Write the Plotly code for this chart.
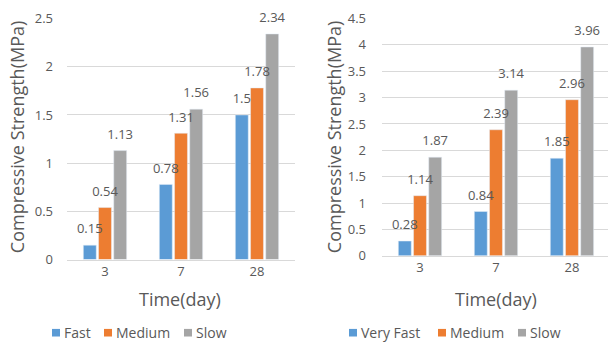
import plotly.graph_objects as go

# Curing ages (days) shared by both panels
ages = ["3", "7", "28"]

# Left panel: compressive strength (MPa) by setting rate
left_names = ["Fast", "Medium", "Slow"]
left_fast = [0.15, 0.78, 1.5]
left_medium = [0.54, 1.31, 1.78]
left_slow = [1.13, 1.56, 2.34]

# Right panel: compressive strength (MPa) by setting rate
right_names = ["Very Fast", "Medium", "Slow"]
right_vfast = [0.28, 0.84, 1.85]
right_medium = [1.14, 2.39, 2.96]
right_slow = [1.87, 3.14, 3.96]

colors = ["#5B9BD5", "#ED7D31", "#A5A5A5"]
TXT = "#595959"
GRID = "#D9D9D9"
FONT = "Open Sans"

W, H = 608, 355


def px_x(v):
    return v / W


def px_y(v):
    return 1 - v / H


fig = go.Figure()

panels = [
    ("x", "y", left_names, [left_fast, left_medium, left_slow]),
    ("x2", "y2", right_names, [right_vfast, right_medium, right_slow]),
]

# Bars first, value labels afterwards so labels sit on top of neighbouring bars
for xa, ya, names, series in panels:
    for i, (name, vals, c) in enumerate(zip(names, series, colors)):
        fig.add_trace(go.Bar(
            x=ages, y=vals, name=name, marker_color=c,
            offsetgroup=str(i), alignmentgroup=xa,
            xaxis=xa, yaxis=ya, showlegend=False,
        ))
for xa, ya, names, series in panels:
    for i, (name, vals) in enumerate(zip(names, series)):
        fig.add_trace(go.Scatter(
            x=ages, y=vals, mode="markers+text", name=name,
            marker=dict(size=12, color="rgba(0,0,0,0)"),
            text=[f"{v:g}" for v in vals], textposition="top center",
            textfont=dict(family=FONT, size=13, color=TXT),
            offsetgroup=str(i), alignmentgroup=xa,
            cliponaxis=False, xaxis=xa, yaxis=ya, showlegend=False,
            hoverinfo="skip",
        ))

tick_font = dict(family=FONT, size=13, color=TXT)

fig.update_layout(
    width=W, height=H,
    margin=dict(l=0, r=0, t=0, b=0),
    paper_bgcolor="white", plot_bgcolor="white",
    barmode="group", bargap=0.4, bargroupgap=0.15,
    scattermode="group", scattergap=0.4,
    font=dict(family=FONT, color=TXT),
    xaxis=dict(domain=[px_x(67), px_x(295)], anchor="y", type="category",
               range=[-0.5, 2.5], showline=True, linecolor=GRID, linewidth=1,
               showgrid=False, zeroline=False, ticks="", tickfont=tick_font),
    yaxis=dict(domain=[px_y(264), px_y(10)], anchor="x", range=[0, 2.5],
               dtick=0.5, showgrid=True, gridcolor=GRID,
               zeroline=False, ticks="", ticklabelstandoff=13,
               tickfont=tick_font),
    xaxis2=dict(domain=[px_x(382), 1.0], anchor="y2", type="category",
                range=[-0.5, 2.474], showline=True, linecolor=GRID, linewidth=1,
                showgrid=False, zeroline=False, ticks="", tickfont=tick_font),
    yaxis2=dict(domain=[px_y(260), px_y(10)], anchor="x2", range=[0, 4.5],
                dtick=0.5, showgrid=True, gridcolor=GRID,
                zeroline=False, ticks="", ticklabelstandoff=15,
                tickfont=tick_font),
    showlegend=False,
)

# Axis titles
title_font = dict(family=FONT, size=18, color=TXT)
annos = [
    dict(text="Compressive Strength(MPa)", x=px_x(17), y=px_y(135), textangle=-90),
    dict(text="Compressive Strength(MPa)", x=px_x(334), y=px_y(135), textangle=-90),
    dict(text="Time(day)", x=px_x(180), y=px_y(306), textangle=0),
    dict(text="Time(day)", x=px_x(496), y=px_y(305), textangle=0),
]
for a in annos:
    fig.add_annotation(xref="paper", yref="paper", showarrow=False,
                       xanchor="center", yanchor="middle", font=title_font, **a)

# Legend keys: small square swatch followed by the series name
legend_y = 341
sw = 8
left_text_x = [64, 116, 196]
right_text_x = [361, 450, 530]
for names, xs in ((left_names, left_text_x), (right_names, right_text_x)):
    for name, tx, c in zip(names, xs, colors):
        x0 = tx - 4 - sw
        fig.add_shape(type="rect", xref="paper", yref="paper",
                      x0=px_x(x0), x1=px_x(x0 + sw),
                      y0=px_y(legend_y + sw / 2), y1=px_y(legend_y - sw / 2),
                      fillcolor=c, line=dict(width=0))
        fig.add_annotation(xref="paper", yref="paper", showarrow=False,
                           x=px_x(tx - 2), y=px_y(legend_y), xanchor="left",
                           yanchor="middle", text=name,
                           font=dict(family=FONT, size=14, color=TXT))

fig.write_html("out.html")
